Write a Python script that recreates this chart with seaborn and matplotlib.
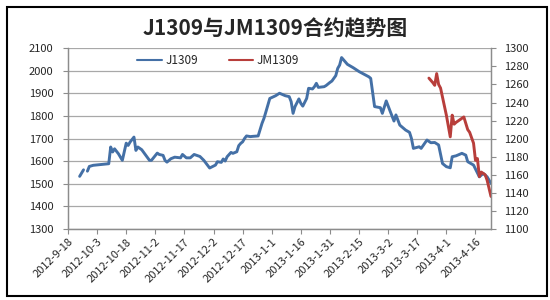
import matplotlib
matplotlib.use("Agg")
import matplotlib.pyplot as plt
import matplotlib.dates as mdates
import matplotlib.patches as mpatches
from matplotlib.lines import Line2D
from matplotlib.ticker import FuncFormatter
import seaborn as sns
import pandas as pd
import numpy as np

# ---------------- data ----------------
title = "J1309与JM1309合约趋势图"
j_name = "J1309"
jm_name = "JM1309"

j_dates = [
    "2012-09-24", "2012-09-26", "2012-09-27", "2012-09-28", "2012-09-29", "2012-10-01",
    "2012-10-09", "2012-10-10", "2012-10-11", "2012-10-12", "2012-10-14", "2012-10-16",
    "2012-10-18", "2012-10-19", "2012-10-20", "2012-10-22", "2012-10-23", "2012-10-24",
    "2012-10-26", "2012-10-30", "2012-10-31", "2012-11-03", "2012-11-04", "2012-11-06",
    "2012-11-07", "2012-11-08", "2012-11-10", "2012-11-12", "2012-11-15", "2012-11-16",
    "2012-11-18", "2012-11-20", "2012-11-22", "2012-11-25", "2012-11-27", "2012-11-30",
    "2012-12-03", "2012-12-04", "2012-12-06", "2012-12-07", "2012-12-08", "2012-12-09",
    "2012-12-11", "2012-12-12", "2012-12-14", "2012-12-15", "2012-12-16", "2012-12-17",
    "2012-12-18", "2012-12-19", "2012-12-21", "2012-12-22", "2012-12-25", "2012-12-27",
    "2012-12-28", "2012-12-29", "2012-12-31", "2013-01-03", "2013-01-05", "2013-01-08",
    "2013-01-10", "2013-01-11", "2013-01-12", "2013-01-13", "2013-01-15", "2013-01-16",
    "2013-01-17", "2013-01-19", "2013-01-20", "2013-01-22", "2013-01-23", "2013-01-24",
    "2013-01-25", "2013-01-28", "2013-01-29", "2013-01-31", "2013-02-01", "2013-02-03",
    "2013-02-04", "2013-02-05", "2013-02-06", "2013-02-09", "2013-02-12", "2013-02-15",
    "2013-02-20", "2013-02-21", "2013-02-23", "2013-02-26", "2013-02-27", "2013-03-01",
    "2013-03-03", "2013-03-05", "2013-03-06", "2013-03-08", "2013-03-11", "2013-03-13",
    "2013-03-14", "2013-03-15", "2013-03-18", "2013-03-19", "2013-03-22", "2013-03-24",
    "2013-03-26", "2013-03-28", "2013-03-30", "2013-04-01", "2013-04-03", "2013-04-04",
    "2013-04-06", "2013-04-09", "2013-04-11", "2013-04-12", "2013-04-15", "2013-04-18",
    "2013-04-20", "2013-04-22", "2013-04-24",
]
j_values = [
    1533, 1562, np.nan, 1556, 1577, 1582,
    1589, 1663, 1641, 1655, 1633, 1604,
    1680, 1670, 1685, 1707, 1648, 1663,
    1651, 1604, 1604, 1636, 1630, 1626,
    1604, 1596, 1611, 1618, 1615, 1630,
    1615, 1615, 1630, 1621, 1604, 1570,
    1583, 1598, 1595, 1610, 1601, 1620,
    1639, 1635, 1642, 1669, 1679, 1686,
    1701, 1712, 1709, 1710, 1712, 1768,
    1790, 1819, 1878, 1890, 1901, 1890,
    1886, 1864, 1812, 1842, 1876, 1856,
    1844, 1878, 1923, 1920, 1930, 1945,
    1927, 1930, 1935, 1949, 1955, 1979,
    2011, 2026, 2059, 2029, 2014, 1997,
    1974, 1967, 1842, 1837, 1812, 1867,
    1822, 1778, 1805, 1760, 1738, 1728,
    1701, 1657, 1664, 1657, 1694, 1682,
    1683, 1672, 1590, 1576, 1571, 1620,
    1624, 1635, 1627, 1598, 1583, 1531,
    1546, 1531, 1502,
]

jm_dates = [
    "2013-03-23", "2013-03-25", "2013-03-26", "2013-03-27", "2013-03-28", "2013-03-29",
    "2013-04-01", "2013-04-03", "2013-04-04", "2013-04-05", "2013-04-06", "2013-04-08",
    "2013-04-10", "2013-04-12", "2013-04-13", "2013-04-15", "2013-04-16", "2013-04-17",
    "2013-04-18", "2013-04-19", "2013-04-21", "2013-04-22", "2013-04-23", "2013-04-24",
]
jm_values = [
    1267, 1262, 1259, 1272, 1260, 1256,
    1226, 1202, 1226, 1216, 1218, 1221,
    1224, 1210, 1207, 1195, 1176, 1178,
    1158, 1163, 1160, 1154, 1145, 1136,
]

left_ticks = list(range(1300, 2101, 100))
right_ticks = list(range(1100, 1301, 20))
x_start = "2012-09-18"
x_end = "2013-04-24"
x_tick_last = "2013-04-16"

# ---------------- style ----------------
sns.set_theme(style="white")
plt.rcParams['font.family'] = ['Noto Sans CJK SC', 'DejaVu Sans']

blue = "#4470A6"
red = "#B83E3B"
axis_gray = "#8C8C8C"
grid_gray = "#A8A8A8"
text_col = "#262626"

W, H = 550, 300
fig = plt.figure(figsize=(W / 100, H / 100), dpi=100)
fig.patch.set_facecolor("white")

# outer chart frame
frame = mpatches.Rectangle((7 / W, 1 - 296 / H), 540 / W, 289 / H, transform=fig.transFigure,
                           facecolor="white", edgecolor="black", lw=1.5, zorder=-2)
fig.patches.append(frame)

left_px, right_px, top_px, bot_px = 68, 491, 48.3, 229
ax = fig.add_axes([left_px / W, 1 - bot_px / H, (right_px - left_px) / W, (bot_px - top_px) / H])
ax.patch.set_alpha(0)
ax2 = ax.twinx()

dfj = pd.DataFrame({"date": pd.to_datetime(j_dates), "value": j_values})
dfj["seg"] = dfj["value"].isna().cumsum()
dfj = dfj.dropna()
dfm = pd.DataFrame({"date": pd.to_datetime(jm_dates), "value": jm_values})

sns.lineplot(data=dfj, x="date", y="value", units="seg", estimator=None, ax=ax,
             color=blue, lw=2.1, legend=False, sort=False)
sns.lineplot(data=dfm, x="date", y="value", estimator=None, ax=ax2,
             color=red, lw=2.1, legend=False, sort=False)

ax.set_ylim(1300, 2100)
ax.set_yticks(left_ticks)
ax2.set_ylim(1100, 1300)
ax2.set_yticks(right_ticks)
ax.set_xlim(pd.Timestamp(x_start), pd.Timestamp(x_end))
ax.set_xticks(pd.date_range(x_start, x_tick_last, freq="15D"))
ax.xaxis.set_major_formatter(FuncFormatter(
    lambda v, pos: (lambda d: f"{d.year}-{d.month}-{d.day}")(mdates.num2date(v))))

ax.set_xlabel("")
ax.set_ylabel("")
ax2.set_ylabel("")

ax.yaxis.grid(True, color=grid_gray, lw=0.9)
ax.xaxis.grid(False)
ax2.grid(False)
ax.set_axisbelow(True)

for a in (ax, ax2):
    a.spines["top"].set_visible(False)
    for s in ("left", "right", "bottom"):
        a.spines[s].set_color(axis_gray)
        a.spines[s].set_linewidth(0.9)

ax.tick_params(axis="y", left=True, length=3.5, width=0.8, color=axis_gray, pad=7,
               labelsize=8, labelcolor=text_col)
ax2.tick_params(axis="y", right=True, length=3.5, width=0.8, color=axis_gray, pad=6,
                labelsize=8, labelcolor=text_col)
ax.tick_params(axis="x", bottom=True, length=3.5, width=0.8, color=axis_gray, pad=2,
               labelsize=8, labelcolor=text_col)
for lab in ax.get_xticklabels():
    lab.set_rotation(45)
    lab.set_ha("right")
    lab.set_rotation_mode("anchor")

handles = [Line2D([], [], color=blue, lw=1.5), Line2D([], [], color=red, lw=1.5)]
ax.legend(handles, [j_name, jm_name], loc="center", bbox_to_anchor=(0.355, 0.93),
          ncol=2, frameon=False, fontsize=8.5, handlelength=2.1, columnspacing=2.6,
          handletextpad=0.3, labelcolor=text_col)

fig.text(275 / W, 1 - 29 / H, title, ha="center", va="center", fontsize=15,
         fontweight="bold", color="#262626")

fig.savefig("out.png", dpi=100)
